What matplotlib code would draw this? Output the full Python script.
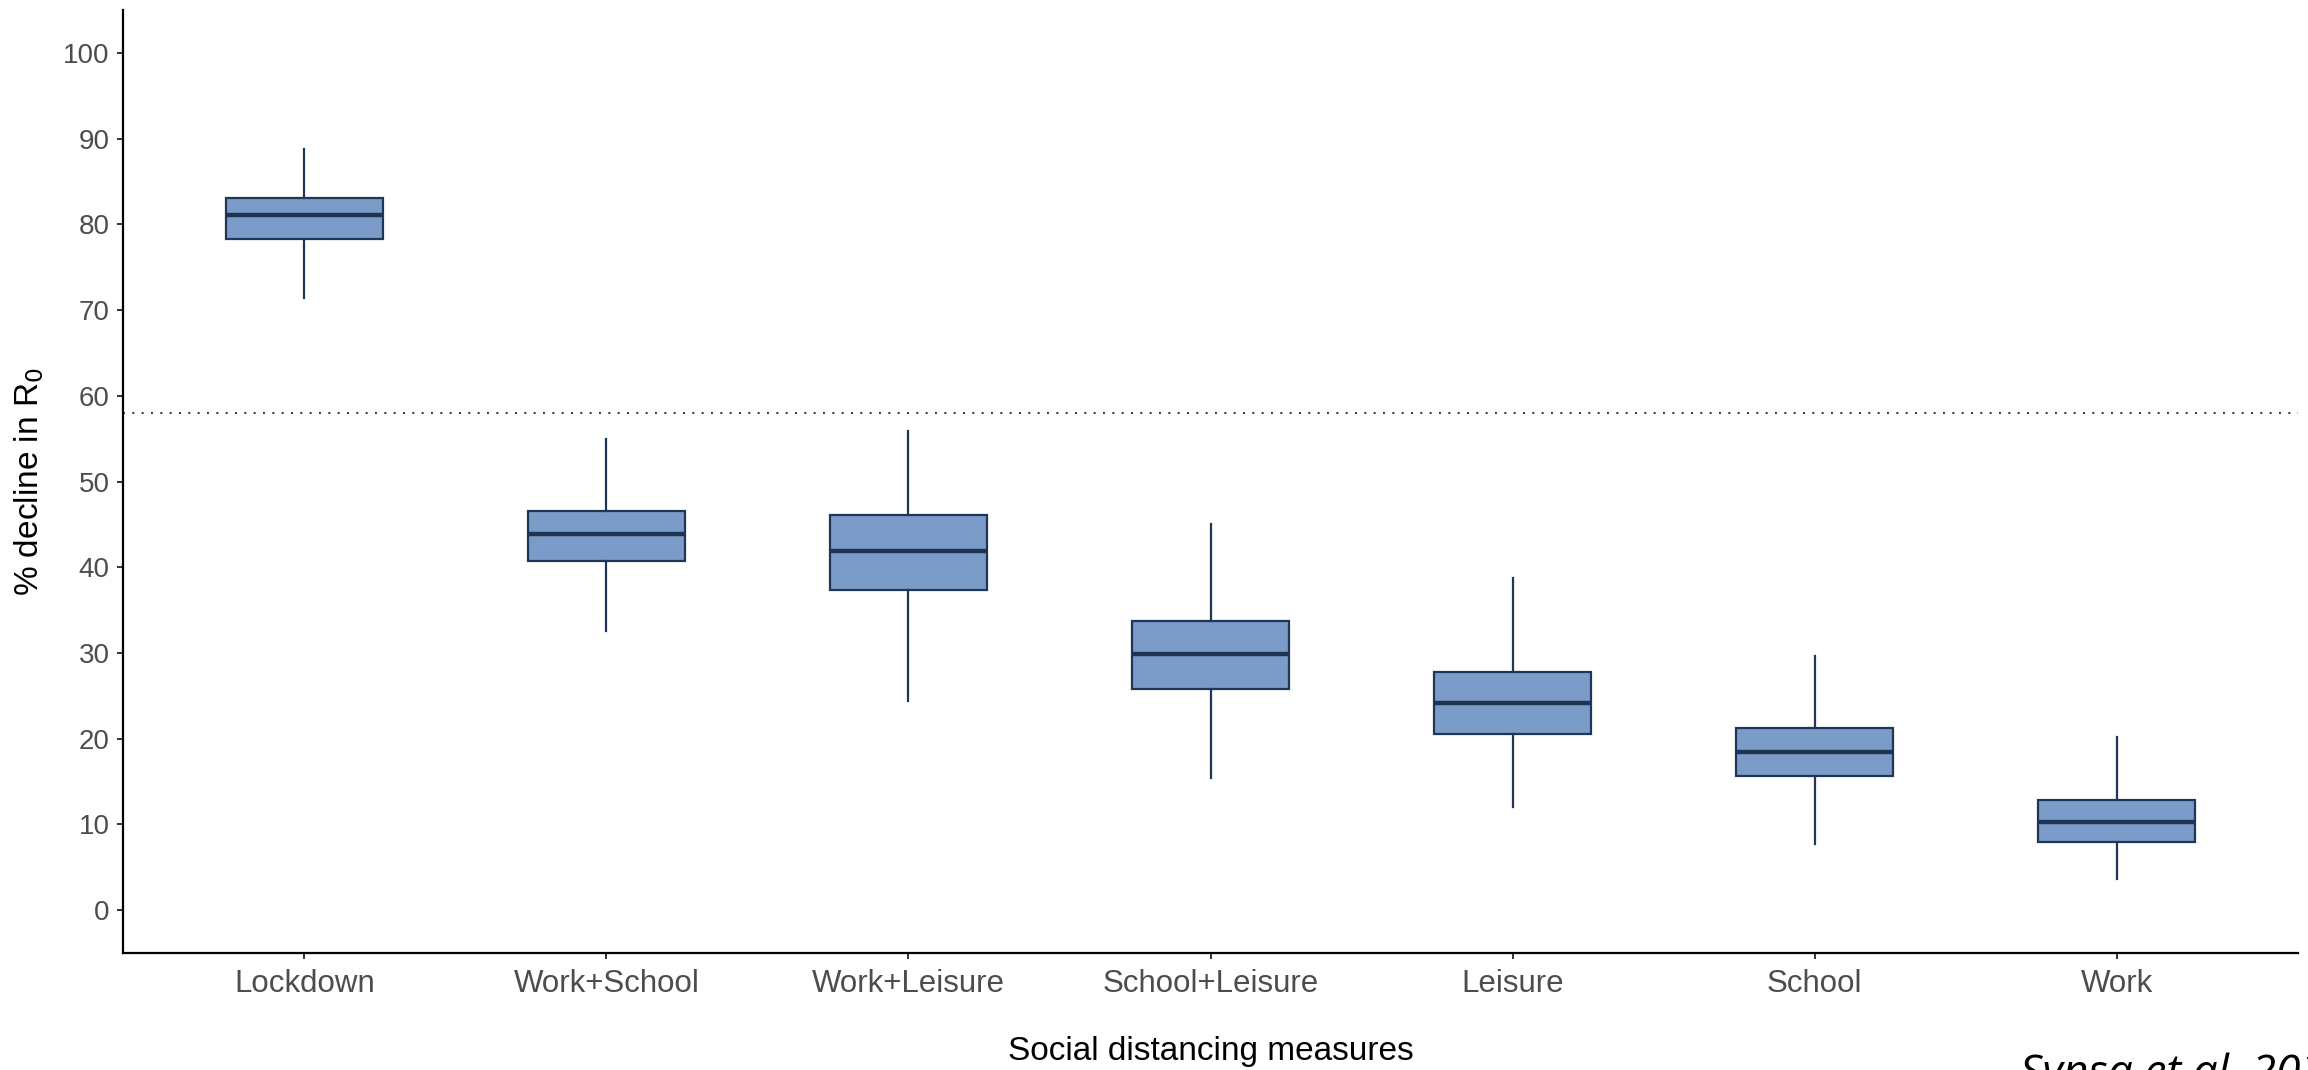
import matplotlib
matplotlib.use("Agg")
import matplotlib.pyplot as plt

# Decline in R0 per social distancing scenario (box summaries)
mesures = ["Lockdown", "Work+School", "Work+Leisure", "School+Leisure",
           "Leisure", "School", "Work"]
q1 = [78.3, 40.7, 37.3, 25.8, 20.5, 15.6, 7.9]
mediane = [81.1, 43.9, 41.9, 29.9, 24.2, 18.5, 10.3]
q3 = [83.1, 46.6, 46.1, 33.7, 27.8, 21.3, 12.9]
whis_bas = [71.4, 32.6, 24.4, 15.4, 12.0, 7.7, 3.6]
whis_haut = [88.8, 54.9, 55.9, 45.1, 38.7, 29.7, 20.2]
seuil = 58.0
yticks = [0, 10, 20, 30, 40, 50, 60, 70, 80, 90, 100]

plt.rcParams['font.family'] = ['Liberation Sans', 'DejaVu Sans']

fig = plt.figure(figsize=(23.08, 10.70), dpi=100)
ax = fig.add_axes([0.0533, 0.1093, 0.9424, 0.8814])

stats = []
for i in range(len(mesures)):
    stats.append({"med": mediane[i], "q1": q1[i], "q3": q3[i],
                  "whislo": whis_bas[i], "whishi": whis_haut[i],
                  "fliers": [], "label": mesures[i]})

bord = "#1f3657"
ax.bxp(stats, positions=range(1, len(mesures) + 1), widths=0.52,
       showfliers=False, showcaps=False, patch_artist=True,
       boxprops=dict(facecolor="#7b9cc8", edgecolor=bord, linewidth=1.6),
       medianprops=dict(color="#1e3452", linewidth=3.2, solid_capstyle="butt"),
       whiskerprops=dict(color=bord, linewidth=1.6))

ax.axhline(seuil, color="#333333", linewidth=1.4, linestyle=(0, (1, 3.8)))

ax.set_xlim(0.4, len(mesures) + 0.6)
ax.set_ylim(-5, 105)
ax.set_yticks(yticks)

for s in ["top", "right"]:
    ax.spines[s].set_visible(False)
for s in ["left", "bottom"]:
    ax.spines[s].set_linewidth(1.6)
    ax.spines[s].set_color("black")

ax.tick_params(axis="both", colors="#333333", width=1.4, length=4.5,
               labelcolor="#4d4d4d")
ax.tick_params(axis="y", pad=5, labelsize=20)
ax.tick_params(axis="x", pad=7, labelsize=22.5)

ax.set_ylabel("% decline in R$_0$", fontsize=24, color="black")
ax.set_xlabel("Social distancing measures", fontsize=24, color="black")
ax.yaxis.set_label_coords(-0.0354, 0.5)
ax.xaxis.set_label_coords(0.5, -0.088)

fig.text(2020 / 2308, 1 - 1086 / 1070, "Synsa et al. 2020", fontsize=32,
         style="italic", family=["Open Sans", "DejaVu Sans"], color="black",
         ha="left", va="baseline")

fig.savefig("out.png", dpi=100)
